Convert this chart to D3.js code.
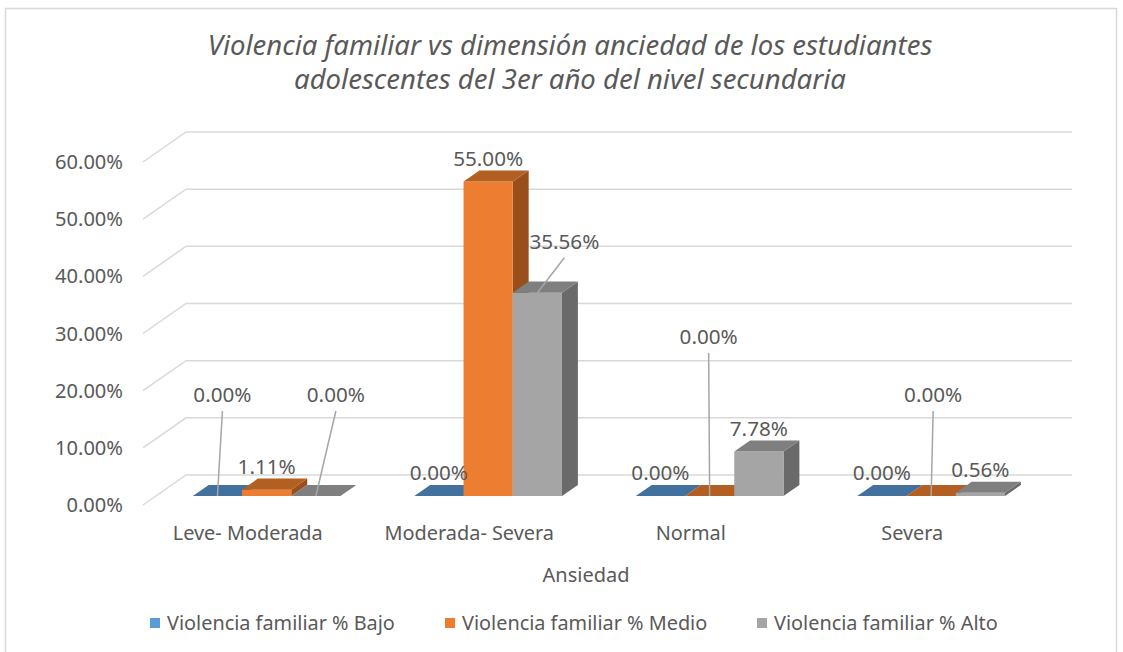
<!DOCTYPE html>
<html>
<head>
<meta charset="utf-8">
<script src="https://cdn.jsdelivr.net/npm/d3@7"></script>
<style>
  body { margin: 0; background: #fff; }
  text { font-family: "Noto Sans", sans-serif; fill: #595959; }
</style>
</head>
<body>
<script>
// chart data
const categories = ["Leve- Moderada", "Moderada- Severa", "Normal", "Severa"];
const seriesNames = [
  "Violencia familiar % Bajo",
  "Violencia familiar % Medio",
  "Violencia familiar % Alto",
];
const bajo = [0.0, 0.0, 0.0, 0.0];
const medio = [0.0111, 0.55, 0.0, 0.0];
const alto = [0.0, 0.3556, 0.0778, 0.0056];
const yTicks = [0, 0.1, 0.2, 0.3, 0.4, 0.5, 0.6];
const titleLines = [
  "Violencia familiar vs dimensión anciedad de los estudiantes",
  "adolescentes del 3er año del nivel secundaria",
];
const axisTitle = "Ansiedad";

// colours per series: front, top, side
const colors = [
  { front: "#5b9bd5", top: "#41719c", side: "#34618a" },
  { front: "#ed7d31", top: "#b45f22", side: "#9a4e1b" },
  { front: "#a5a5a5", top: "#7f7f7f", side: "#6a6a6a" },
];

// layout of the 3d box
const width = 1123, height = 652;
const X0 = 143, X1 = 1029, Y0 = 505;
const DX = 43, DY = 30; // depth of the floor
const F0 = 0.3, F1 = 0.67; // bar depth inside the floor

// manually moved data labels (offsets from default spot)
const moved = {
  "0|0": [5, -78],
  "0|2": [20, -78],
  "1|2": [27, -28],
  "2|1": [-1, -136],
  "3|1": [2, -78],
};

const svg = d3.select("body").append("svg")
  .attr("width", width).attr("height", height);

// pick a font size so a sample string gets the wanted width
function fitSize(sample, target, italic) {
  const t = svg.append("text").attr("font-size", "100px")
    .attr("font-style", italic ? "italic" : "normal").text(sample);
  const w = t.node().getComputedTextLength();
  t.remove();
  return (100 * target) / w;
}
const fsTick = fitSize("60.00%", 68);
const fsData = fitSize("55.00%", 70);
const fsCat = fitSize("Leve- Moderada", 150);
const fsLegend = fitSize("Violencia familiar % Bajo", 228);
const fsAxis = fitSize("Ansiedad", 87);
const fsTitle = fitSize(titleLines[0], 725, true);

// outer frame
svg.append("rect")
  .attr("x", 5.5).attr("y", 8.5)
  .attr("width", 1111).attr("height", 700)
  .attr("fill", "none").attr("stroke", "#d9d9d9").attr("stroke-width", 1.5);

// scales
const y = d3.scaleLinear().domain([0, 0.6]).range([0, 343]);
const x0 = d3.scaleBand().domain(categories).range([X0, X1])
  .paddingInner(1 / 3).paddingOuter(1 / 6);
const x1 = d3.scaleBand().domain(d3.range(3)).range([0, x0.bandwidth()]);

function P(x, v, f) {
  return [x + DX * f, Y0 - y(v) - DY * f];
}
const line = d3.line();

// gridlines on side and back wall
const grid = svg.append("g");
yTicks.forEach((t) => {
  grid.append("path")
    .attr("d", line([P(X0, t, 0), P(X0, t, 1), [X1 + DX, P(X0, t, 1)[1]]]))
    .attr("fill", "none").attr("stroke", "#d9d9d9").attr("stroke-width", 1.5);
});

// y axis labels
svg.append("g").selectAll("text")
  .data(yTicks).enter().append("text")
  .attr("x", 123)
  .attr("y", (d) => P(X0, d, 0)[1])
  .attr("dy", "0.35em")
  .attr("text-anchor", "end")
  .attr("font-size", fsTick + "px")
  .text(d3.format(".2%"));

// bars
const values = [bajo, medio, alto];
const bars = [];
categories.forEach((c, ci) => {
  values.forEach((vals, si) => {
    bars.push({ c: c, ci: ci, si: si, v: vals[ci] });
  });
});

const gBars = svg.append("g");
bars.forEach((b) => {
  const xl = x0(b.c) + x1(b.si);
  const xr = xl + x1.bandwidth();
  const col = colors[b.si];
  // side
  gBars.append("path")
    .attr("d", line([P(xr, 0, F0), P(xr, 0, F1), P(xr, b.v, F1), P(xr, b.v, F0)]) + "Z")
    .attr("fill", col.side);
  // front
  gBars.append("path")
    .attr("d", line([P(xl, 0, F0), P(xr, 0, F0), P(xr, b.v, F0), P(xl, b.v, F0)]) + "Z")
    .attr("fill", col.front);
  // top
  gBars.append("path")
    .attr("d", line([P(xl, b.v, F0), P(xr, b.v, F0), P(xr, b.v, F1), P(xl, b.v, F1)]) + "Z")
    .attr("fill", col.top);
  b.anchor = P((xl + xr) / 2, b.v, F0);
});

// data labels with leader lines
const fmt = d3.format(".2%");
const gLabels = svg.append("g");
bars.forEach((b) => {
  let cx = b.anchor[0], cy = b.anchor[1] - 23;
  const mv = moved[b.ci + "|" + b.si];
  if (mv) {
    cx += mv[0];
    cy += mv[1];
    gLabels.append("line")
      .attr("x1", cx).attr("y1", cy + 16)
      .attr("x2", b.anchor[0]).attr("y2", b.anchor[1])
      .attr("stroke", "#a6a6a6").attr("stroke-width", 1.5);
  }
  gLabels.append("text")
    .attr("x", cx).attr("y", cy)
    .attr("dy", "0.35em")
    .attr("text-anchor", "middle")
    .attr("font-size", fsData + "px")
    .text(fmt(b.v));
});

// category labels
svg.append("g").selectAll("text")
  .data(categories).enter().append("text")
  .attr("x", (d) => x0(d) + x0.bandwidth() / 2 - 6)
  .attr("y", 533)
  .attr("dy", "0.35em")
  .attr("text-anchor", "middle")
  .attr("font-size", fsCat + "px")
  .text((d) => d);

// axis title
svg.append("text")
  .attr("x", 586).attr("y", 575)
  .attr("dy", "0.35em")
  .attr("text-anchor", "middle")
  .attr("font-size", fsAxis + "px")
  .text(axisTitle);

// chart title
svg.append("g").selectAll("text")
  .data(titleLines).enter().append("text")
  .attr("x", 570)
  .attr("y", (d, i) => 55 + i * 34)
  .attr("text-anchor", "middle")
  .attr("font-size", fsTitle + "px")
  .attr("font-style", "italic")
  .text((d) => d);

// legend
const legendX = [150, 445, 757];
const legend = svg.append("g").selectAll("g")
  .data(seriesNames).enter().append("g")
  .attr("transform", (d, i) => "translate(" + legendX[i] + ",623)");
legend.append("rect")
  .attr("x", 0).attr("y", -5)
  .attr("width", 10).attr("height", 10)
  .attr("fill", (d, i) => colors[i].front);
legend.append("text")
  .attr("x", 17).attr("dy", "0.35em")
  .attr("font-size", fsLegend + "px")
  .text((d) => d);
</script>
</body>
</html>
